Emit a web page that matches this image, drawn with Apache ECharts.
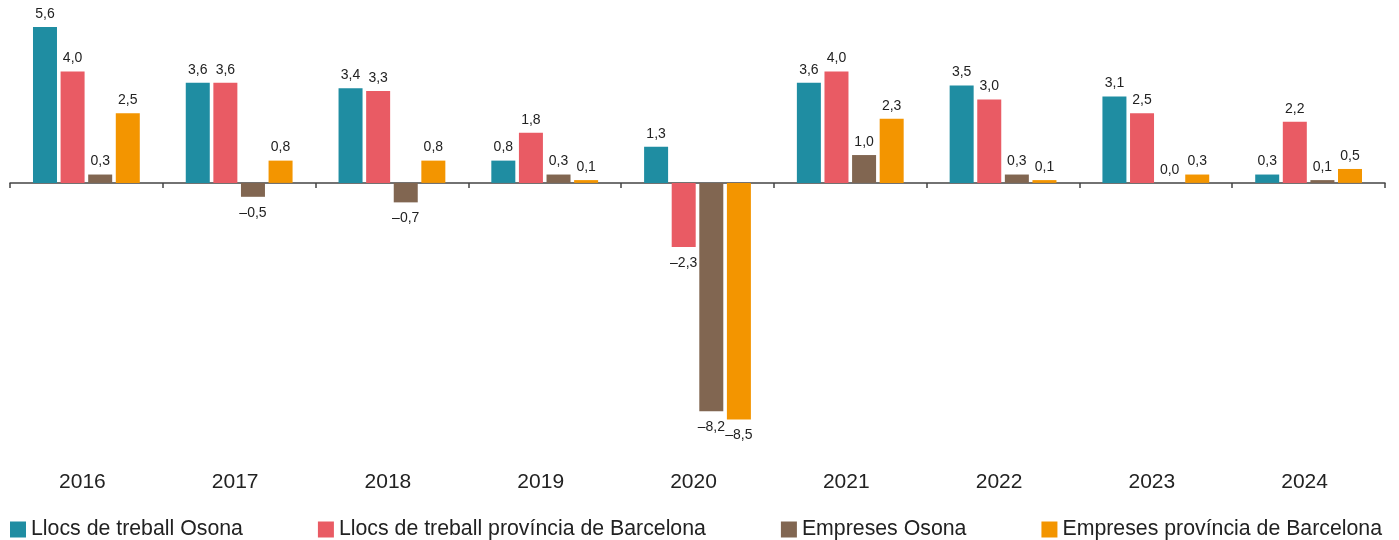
<!DOCTYPE html>
<html>
<head>
<meta charset="utf-8">
<script src="https://cdn.jsdelivr.net/npm/echarts@6/dist/echarts.min.js"></script>
<style>
html,body{margin:0;padding:0;background:#fff;}
#chart{width:1399px;height:540px;}
</style>
</head>
<body>
<div id="chart"></div>
<script>
const years = ['2016','2017','2018','2019','2020','2021','2022','2023','2024'];
const seriesNames = ['Llocs de treball Osona','Llocs de treball província de Barcelona','Empreses Osona','Empreses província de Barcelona'];
const llocsOsona = [5.6, 3.6, 3.4, 0.8, 1.3, 3.6, 3.5, 3.1, 0.3];
const llocsBarcelona = [4.0, 3.6, 3.3, 1.8, -2.3, 4.0, 3.0, 2.5, 2.2];
const empresesOsona = [0.3, -0.5, -0.7, 0.3, -8.2, 1.0, 0.3, 0.0, 0.1];
const empresesBarcelona = [2.5, 0.8, 0.8, 0.1, -8.5, 2.3, 0.1, 0.3, 0.5];
const colors = ['#1f8da2', '#e95b64', '#816651', '#f39500'];

const FONT = "'Liberation Sans', Arial, Helvetica, sans-serif";
const fmt = v => (v < 0 ? '\u2013' : '') + Math.abs(v).toFixed(1).replace('.', ',');

function makeSeries(name, arr, i) {
  return {
    name: name,
    type: 'bar',
    xAxisIndex: 0,
    barWidth: 24,
    barGap: '15%',
    itemStyle: { color: colors[i] },
    data: arr.map(v => ({
      value: v,
      label: v < 0 ? { position: 'bottom', distance: 9 } : { position: 'top', distance: 6 }
    })),
    label: {
      show: true,
      fontFamily: FONT,
      fontSize: 14,
      color: '#222',
      formatter: p => fmt(p.value)
    }
  };
}

const chart = echarts.init(document.getElementById('chart'), null, { renderer: 'canvas' });
chart.setOption({
  animation: false,
  backgroundColor: '#fff',
  color: colors,
  grid: { left: 10, right: 14, top: 27, bottom: 120.5, containLabel: false },
  legend: {
    left: 10,
    top: 519,
    padding: 0,
    itemWidth: 16,
    itemHeight: 16,
    itemGap: 75,
    icon: 'rect',
    textStyle: { fontFamily: FONT, fontSize: 21.3, color: '#222' },
    data: seriesNames
  },
  xAxis: [
    {
      type: 'category',
      data: years,
      boundaryGap: true,
      axisLine: { onZero: true, lineStyle: { color: '#444', width: 1.5 } },
      axisTick: { show: true, length: 5, lineStyle: { color: '#444', width: 1.5 } },
      axisLabel: { show: false },
      splitLine: { show: false }
    },
    {
      type: 'category',
      data: years,
      position: 'bottom',
      boundaryGap: true,
      axisLine: { show: false, onZero: false },
      axisTick: { show: false },
      axisLabel: { show: true, margin: 52, padding: [0, 8, 0, 0], fontFamily: FONT, fontSize: 21, color: '#222' },
      splitLine: { show: false }
    }
  ],
  yAxis: {
    type: 'value',
    min: -8.5,
    max: 5.6,
    show: false,
    splitLine: { show: false }
  },
  series: [
    makeSeries(seriesNames[0], llocsOsona, 0),
    makeSeries(seriesNames[1], llocsBarcelona, 1),
    makeSeries(seriesNames[2], empresesOsona, 2),
    makeSeries(seriesNames[3], empresesBarcelona, 3)
  ]
});
</script>
</body>
</html>
